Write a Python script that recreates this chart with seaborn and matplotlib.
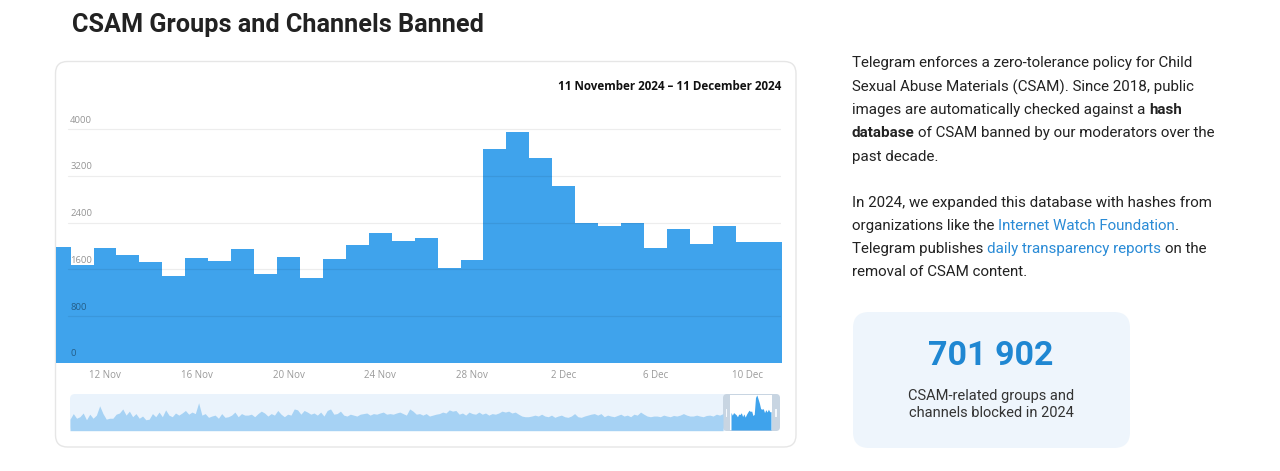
import numpy as np
import pandas as pd
import matplotlib
matplotlib.use("Agg")
import matplotlib.pyplot as plt
import matplotlib.transforms as mtransforms
from matplotlib.patches import FancyBboxPatch, Rectangle
import seaborn as sns

# daily counts shown in the main chart (10 Nov - 11 Dec 2024)
dates = pd.date_range("2024-11-10", "2024-12-11", freq="D")
banned = [1980, 1670, 1960, 1840, 1720, 1490, 1790, 1750, 1940, 1520, 1810, 1450,
          1770, 2020, 2230, 2090, 2140, 1630, 1760, 3660, 3950, 3500, 3020, 2400,
          2350, 2400, 1960, 2290, 2030, 2340, 2060, 2060]

# rough readings of the year overview strip (before the selected window)
history = [1360, 2020, 1470, 1650, 2090, 1290, 1950, 1470, 1840, 2940, 2020, 1360,
           1470, 1470, 1950, 2090, 2570, 1840, 2310, 1650, 2020, 1470, 1730, 1290,
           1360, 2020, 1650, 2200, 1650, 2460, 1840, 1650, 2090, 1840, 2090, 2390,
           1950, 2200, 2020, 3300, 1840, 2020, 1580, 1730, 1840, 1470, 2020, 1580,
           1650, 1840, 2200, 1650, 2020, 1840,
           1840, 1950, 1650, 2020, 2310, 2090, 1730, 2020, 1840, 2390, 1950, 1650,
           1950, 1840, 2570, 2460, 1950, 2390, 2200, 1950, 2090, 1840, 2200, 1730,
           2390, 2570, 1950, 2020, 2310, 1840, 1730, 1950, 1840, 1730, 1950, 2020,
           2090, 1840, 2020, 1950, 2090, 2200, 1950, 2020, 1950, 2090, 2200, 2020,
           1840, 2570, 2310, 1950, 2020, 1840,
           2020, 1730, 1840, 1950, 2020, 2200, 2090, 2460, 2310, 2390, 1950, 2090,
           1840, 2200, 2020, 1950, 2200, 1950, 2090, 1840, 2020, 1950, 2090, 2310,
           2200, 2310, 2090, 2200, 1950, 1730, 1650, 1650, 1730, 1840, 1730, 1950,
           1730, 1650, 1840, 1580, 1730, 1840, 1650, 1580, 1730, 2020, 1650, 1580,
           1730, 1840, 1950, 2020, 1840, 2020,
           1650, 1840, 1730, 1650, 1800, 1950, 1730, 1840, 1650, 1950, 1840, 2200,
           1950, 1730, 1650, 1730, 1730, 1650, 1840, 1730, 1650, 1800, 1730, 1840,
           2020, 1840, 1730, 1730, 1840, 1730, 1650, 1800, 1840, 1730, 1950, 1840,
           2020]

yticks = [0, 800, 1600, 2400, 3200, 4000]
BLUE = "#3fa3ec"
LIGHT = "#a6d2f4"
LINK = "#2a8bd6"
TXT = "#222222"

sns.set_theme(style="white")
plt.rcParams["font.family"] = ["Open Sans", "DejaVu Sans"]

W, H = 1280, 471
fig = plt.figure(figsize=(12.8, 4.71), dpi=100)
fig.patch.set_facecolor("white")
pix = mtransforms.IdentityTransform()


def fx(px):
    return px / W


def fy(py):
    return 1 - py / H


def rbox(x0, y0, x1, y1, r, **kw):
    # rounded box given in image pixel coordinates (top-left origin)
    p = FancyBboxPatch((x0, H - y1), x1 - x0, y1 - y0,
                       boxstyle=f"round,pad=0,rounding_size={r}",
                       transform=pix, **kw)
    fig.add_artist(p)
    return p


# title
fig.text(fx(72), fy(25), "CSAM Groups and Channels Banned", fontsize=18.2,
         weight="bold", color=TXT, va="center", family=["Roboto", "DejaVu Sans"])

# chart card
rbox(55.5, 61.5, 796, 447, 12, fc="white", ec="#e6e6e6", lw=1, zorder=0)

# main chart
ax = fig.add_axes([fx(56), fy(362.7), fx(781) - fx(56), fy(100) - fy(362.7)])
ax.set_zorder(2)
ax.set_facecolor("none")
idx = np.arange(len(banned))
sns.histplot(x=idx, weights=banned, discrete=True, element="step", fill=True,
             color=BLUE, alpha=1, linewidth=0, ax=ax)
ax.set_xlim(-0.135, 31.47)
ax.set_ylim(0, 4502)
ax.set_xlabel("")
ax.set_ylabel("")
for s in ax.spines.values():
    s.set_visible(False)

blend = mtransforms.blended_transform_factory(ax.transAxes, ax.transData)
lab_tr = mtransforms.offset_copy(blend, fig=fig, x=0, y=9, units="dots")
for v in yticks:
    if v > 0:
        ax.axhline(v, xmin=0.017, xmax=1.0, color="black", alpha=0.07, lw=0.9, zorder=3)
    ax.text(0.0195, v, str(v), transform=lab_tr, ha="left", va="center",
            fontsize=6.8, color="black", alpha=0.42, zorder=4)
ax.set_yticks([])

tick_pos = idx[2::4]
tick_lab = [f"{d.day} {d.strftime('%b')}" for d in dates[2::4]]
ax.set_xticks(tick_pos)
ax.set_xticklabels(tick_lab)
ax.tick_params(axis="x", length=0, pad=5, labelsize=7, labelcolor="#9a9a9a")

fig.text(fx(781), fy(87), "11 November 2024 \u2013 11 December 2024", ha="right",
         va="center", fontsize=8.4, weight="bold", color="#111111")

# overview strip
rbox(70, 394, 780, 431, 5, fc="#eaf3fc", ec="none", zorder=1)
nav = fig.add_axes([fx(70), fy(430.7), fx(723) - fx(70), fy(396) - fy(430.7)])
nav.set_zorder(3)
nav.set_facecolor("none")
hist_dates = pd.date_range("2023-11-10", "2024-11-09", periods=len(history))
nav.fill_between(hist_dates, history, color=LIGHT, lw=0)
nav.set_xlim(hist_dates[0], hist_dates[-1])
nav.set_ylim(0, 4100)
nav.axis("off")

rbox(723, 394, 780, 431, 4, fc="#c8d5e2", ec="none", zorder=1)
fig.add_artist(Rectangle((730, H - 430), 42, 35, transform=pix, fc="white", ec="none", zorder=1.5))
for hx in (726.5, 776):
    fig.add_artist(Rectangle((hx - 0.8, H - 417), 1.6, 8, transform=pix, fc="#f4f8fc",
                             ec="none", zorder=1.6))
win = fig.add_axes([fx(731), fy(430), fx(771) - fx(731), fy(394.5) - fy(430)])
win.set_zorder(3)
win.set_facecolor("none")
win.fill_between(dates, banned, color=BLUE, lw=0)
win.set_xlim(dates[0], dates[-1])
win.set_ylim(0, 4000)
win.axis("off")

# right side text
renderer = fig.canvas.get_renderer()
RFONT = ["Roboto", "DejaVu Sans"]
RSIZE = 10.9


def width_of(s, **kw):
    t = fig.text(0, 0, s, fontsize=RSIZE, family=RFONT, **kw)
    w = t.get_window_extent(renderer=renderer).width
    t.remove()
    return w


space_w = width_of("a a") - width_of("aa")


def line(y, parts, x=852):
    for s, color, weight in parts:
        lead = len(s) - len(s.lstrip(" "))
        trail = len(s) - len(s.rstrip(" "))
        core = s.strip(" ")
        x += lead * space_w
        t = fig.text(fx(x), fy(y), core, fontsize=RSIZE, family=RFONT, color=color,
                     weight=weight, va="center", ha="left")
        x += t.get_window_extent(renderer=renderer).width + trail * space_w


P = lambda s: (s, TXT, "normal")
B = lambda s: (s, TXT, "bold")
L = lambda s: (s, LINK, "normal")

line(63, [P("Telegram enforces a zero-tolerance policy for Child")])
line(87, [P("Sexual Abuse Materials (CSAM). Since 2018, public")])
line(110, [P("images are automatically checked against a "), B("hash")])
line(133, [B("database"), P(" of CSAM banned by our moderators over the")])
line(157, [P("past decade.")])
line(203, [P("In 2024, we expanded this database with hashes from")])
line(226, [P("organizations like the "), L("Internet Watch Foundation"), P(".")])
line(249, [P("Telegram publishes "), L("daily transparency reports"), P(" on the")])
line(272, [P("removal of CSAM content.")])

# stat card
rbox(853, 312, 1130, 448, 16, fc="#eef5fc", ec="none", zorder=0)
fig.text(fx(991), fy(356), "701 902", ha="center", va="center", fontsize=24.5,
         weight="bold", color="#1f87d2", family=RFONT)
fig.text(fx(991), fy(396), "CSAM-related groups and", ha="center", va="center",
         fontsize=10.5, color="#333333", family=RFONT)
fig.text(fx(991), fy(413), "channels blocked in 2024", ha="center", va="center",
         fontsize=10.5, color="#333333", family=RFONT)

fig.savefig("out.png", dpi=100, facecolor="white")
